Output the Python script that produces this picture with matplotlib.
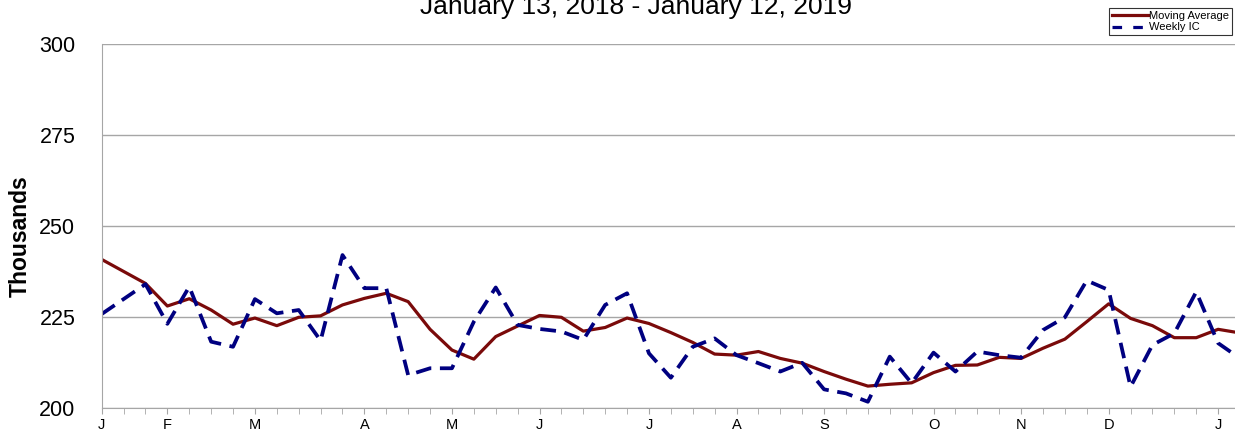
import matplotlib.pyplot as plt
from matplotlib.lines import Line2D

# Weekly initial claims (thousands), Jan 13 2018 - Jan 12 2019
weekly_ic = [225.9, 230.0, 234.1, 223.2, 233.4, 218.3, 216.9, 230.0, 226.1, 227.0,
             218.6, 242.1, 233.0, 233.0, 209.1, 211.0, 211.0, 223.8, 233.2, 222.9,
             221.8, 221.1, 218.8, 228.4, 231.6, 215.1, 208.4, 216.9, 219.2, 214.6,
             212.4, 210.1, 212.5, 205.2, 204.1, 201.8, 214.2, 206.9, 215.3, 210.1,
             215.6, 214.6, 213.9, 221.5, 225.0, 235.1, 232.5, 205.9, 217.4, 220.6,
             232.0, 217.9, 213.7]

moving_avg = [240.9, 237.6, 234.3, 228.1, 230.1, 227.0, 223.1, 224.8, 222.7, 225.0,
              225.4, 228.4, 230.2, 231.6, 229.3, 221.7, 216.0, 213.5, 219.7, 222.6,
              225.5, 225.0, 221.2, 222.2, 224.8, 223.3, 220.8, 218.1, 214.9, 214.6,
              215.6, 213.7, 212.4, 210.1, 208.0, 206.1, 206.6, 207.0, 209.8, 211.8,
              211.9, 214.0, 213.7, 216.5, 219.0, 223.8, 228.7, 224.7, 222.7, 219.4,
              219.4, 221.7, 220.7]

# first week of each month
month_weeks = [0, 3, 7, 12, 16, 20, 25, 29, 33, 38, 42, 46, 51]
month_labels = ["J", "F", "M", "A", "M", "J", "J", "A", "S", "O", "N", "D", "J"]

weeks = list(range(len(weekly_ic)))

plt.rcParams["font.family"] = ["Liberation Sans", "DejaVu Sans"]

fig = plt.figure(figsize=(12.35, 4.32), dpi=100)
ax = fig.add_axes([101.7 / 1235, 1 - 408.3 / 432, (1240 - 101.7) / 1235, (408.3 - 44.3) / 432])

ma_color = "#7a0a0a"
ic_color = "#000080"
grid_color = "#a6a6a6"

ax.plot(weeks, moving_avg, color=ma_color, lw=2.3)
ax.plot(weeks, weekly_ic, color=ic_color, lw=2.7, dashes=(4.2, 2.3))

ax.set_xlim(0, len(weeks) - 1)
ax.set_ylim(200, 300)
ax.set_yticks([200, 225, 250, 275, 300])
ax.yaxis.grid(True, color=grid_color, lw=1)
ax.set_axisbelow(True)

ax.set_xticks(weeks, minor=True)
ax.set_xticks(month_weeks)
ax.set_xticklabels(month_labels, fontsize=10.5)
ax.tick_params(axis="x", which="both", length=4, color=grid_color, direction="out", pad=3)
ax.tick_params(axis="y", length=0, labelsize=15.5, pad=19)

for side in ["top", "right"]:
    ax.spines[side].set_visible(False)
for side in ["left", "bottom"]:
    ax.spines[side].set_color(grid_color)

ax.set_ylabel("Thousands", fontsize=16.5, fontweight="bold")
ax.yaxis.set_label_coords(-0.0612, 0.473)

fig.text(636 / 1235, 1 - 14 / 432, "January 13, 2018 - January 12, 2019",
         fontsize=19, ha="center", va="baseline")

handles = [Line2D([], [], color=ma_color, lw=2.3),
           Line2D([], [], color=ic_color, lw=2.3, dashes=(3, 3.5))]
leg = fig.legend(handles, ["Moving Average", "Weekly IC"],
                 loc="upper right", bbox_to_anchor=(1232 / 1235, 1 - 8 / 432),
                 fontsize=8, frameon=True, fancybox=False, edgecolor="black",
                 handlelength=3.2, handletextpad=0.15, borderpad=0.25,
                 labelspacing=0.15, borderaxespad=0)
leg.get_frame().set_linewidth(0.8)

fig.savefig("out.png", dpi=100)
